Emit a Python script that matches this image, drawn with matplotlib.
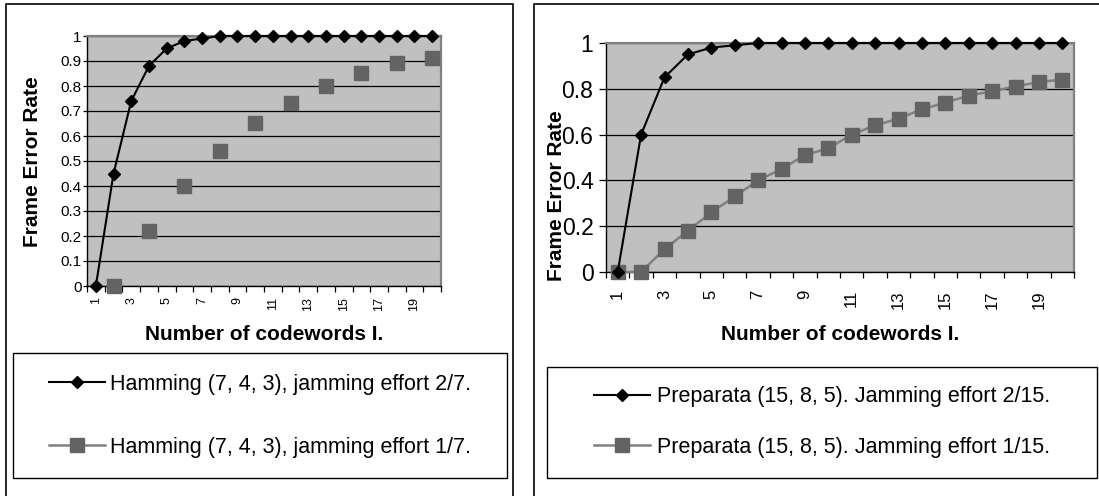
import numpy as np
import matplotlib
matplotlib.use('Agg')
import matplotlib.pyplot as plt
from matplotlib.patches import Rectangle
from matplotlib.lines import Line2D

plt.rcParams['font.family'] = ['Liberation Sans', 'DejaVu Sans']

# Datos: tasa de error de trama frente al número de palabras de código
codewords = np.arange(1, 21)
odd_labels = [str(k) for k in range(1, 21, 2)]

hamming_2_7 = [0, 0.45, 0.74, 0.88, 0.95, 0.98, 0.99, 1, 1, 1,
               1, 1, 1, 1, 1, 1, 1, 1, 1, 1]
hamming_1_7 = [np.nan, 0, np.nan, 0.22, np.nan, 0.40, np.nan, 0.54, np.nan, 0.65,
               np.nan, 0.73, np.nan, 0.80, np.nan, 0.85, np.nan, 0.89, np.nan, 0.91]

preparata_2_15 = [0, 0.60, 0.85, 0.95, 0.98, 0.99, 1, 1, 1, 1,
                  1, 1, 1, 1, 1, 1, 1, 1, 1, 1]
preparata_1_15 = [0, 0, 0.10, 0.18, 0.26, 0.33, 0.40, 0.45, 0.51, 0.54,
                  0.60, 0.64, 0.67, 0.71, 0.74, 0.77, 0.79, 0.81, 0.83, 0.84]

label_h27 = 'Hamming (7, 4, 3), jamming effort 2/7.'
label_h17 = 'Hamming (7, 4, 3), jamming effort 1/7.'
label_p215 = 'Preparata (15, 8, 5). Jamming effort 2/15.'
label_p115 = 'Preparata (15, 8, 5). Jamming effort 1/15.'

W, H = 1099, 496
fig = plt.figure(figsize=(W / 100, H / 100), dpi=100)
fig.patch.set_facecolor('white')


def fx(px):
    return px / W


def fy(py):
    return 1 - py / H


def box(x0, y0, x1, y1, lw=1.2):
    fig.add_artist(Rectangle((fx(x0), fy(y1)), (x1 - x0) / W, (y1 - y0) / H,
                             transform=fig.transFigure, fill=False,
                             ec='black', lw=lw))


# marcos de cada gráfico y de sus leyendas
box(6, 4, 513, 520)
box(534, 4, 1120, 520)
box(13, 353, 507, 478, lw=1.0)
box(547, 367, 1097, 478, lw=1.0)

BLACK = '#000000'
GRAY_LINE = '#808080'
GRAY_MARK = '#636363'


def estilo(ax, yticks, ylabels, ysize, xsize, ylen, ypad, xpad):
    ax.set_facecolor('#C0C0C0')
    ax.set_xlim(0.5, 20.5)
    ax.set_ylim(0, 1)
    ax.set_yticks(yticks)
    ax.set_yticklabels(ylabels)
    ax.grid(axis='y', color='black', linewidth=0.9)
    ax.set_axisbelow(True)
    ax.set_xticks(np.arange(0.5, 21, 1))
    ax.set_xticklabels([])
    ax.set_xticks(np.arange(1, 21, 2), minor=True)
    ax.set_xticklabels(odd_labels, minor=True, rotation=90, fontsize=xsize)
    ax.tick_params(axis='x', which='major', length=4, width=0.9, color='black')
    ax.tick_params(axis='x', which='minor', length=0, pad=xpad)
    ax.tick_params(axis='y', length=ylen, width=0.9, pad=ypad, labelsize=ysize)
    for s in ('top', 'right'):
        ax.spines[s].set_color(GRAY_LINE)
        ax.spines[s].set_linewidth(1.6)
    for s in ('left', 'bottom'):
        ax.spines[s].set_color('black')
        ax.spines[s].set_linewidth(1.0)


# Hamming (7, 4, 3)
ax1 = fig.add_axes([fx(87), fy(286), (441 - 87) / W, 250 / H])
estilo(ax1, np.arange(0, 1.01, 0.1),
       ['0', '0.1', '0.2', '0.3', '0.4', '0.5', '0.6', '0.7', '0.8', '0.9', '1'],
       11, 9, 3, 1, 8)
ax1.plot(codewords, hamming_2_7, color=BLACK, lw=1.5, marker='D', ms=6.5,
         clip_on=False, zorder=5)
ax1.plot(codewords, hamming_1_7, color=GRAY_LINE, lw=1.8, marker='s', ms=10.5,
         mfc=GRAY_MARK, mec=GRAY_MARK, clip_on=False, zorder=4)

# Preparata (15, 8, 5)
ax2 = fig.add_axes([fx(606), fy(272), (1074 - 606) / W, 229 / H])
estilo(ax2, np.arange(0, 1.01, 0.2), ['0', '0.2', '0.4', '0.6', '0.8', '1'],
       16.5, 12, 5, 4, 13)
ax2.plot(codewords, preparata_2_15, color=BLACK, lw=1.5, marker='D', ms=6.5,
         clip_on=False, zorder=5)
ax2.plot(codewords, preparata_1_15, color=GRAY_LINE, lw=1.8, marker='s', ms=10.5,
         mfc=GRAY_MARK, mec=GRAY_MARK, clip_on=False, zorder=4)

# títulos de ejes
fig.text(fx(33), fy(162), 'Frame Error Rate', rotation=90, ha='center',
         va='center', fontsize=15, fontweight='bold')
fig.text(fx(557), fy(196), 'Frame Error Rate', rotation=90, ha='center',
         va='center', fontsize=15, fontweight='bold')
fig.text(fx(264), fy(335), 'Number of codewords I.', ha='center',
         va='center', fontsize=15, fontweight='bold')
fig.text(fx(840), fy(335), 'Number of codewords I.', ha='center',
         va='center', fontsize=15, fontweight='bold')


def entradas(lab_a, lab_b):
    a = Line2D([], [], color=BLACK, lw=1.5, marker='D', ms=6.5)
    b = Line2D([], [], color=GRAY_LINE, lw=1.8, marker='s', ms=10.5,
               mfc=GRAY_MARK, mec=GRAY_MARK)
    return [a, b], [lab_a, lab_b]


h, l = entradas(label_h27, label_h17)
fig.legend(h, l, loc='center', bbox_to_anchor=(fx(260), fy(416)),
           bbox_transform=fig.transFigure, frameon=False, fontsize=15.5,
           handlelength=2.6, handletextpad=0.25, labelspacing=1.95,
           borderpad=0, borderaxespad=0)

h, l = entradas(label_p215, label_p115)
fig.legend(h, l, loc='center', bbox_to_anchor=(fx(822), fy(422)),
           bbox_transform=fig.transFigure, frameon=False, fontsize=15.5,
           handlelength=2.6, handletextpad=0.3, labelspacing=1.35,
           borderpad=0, borderaxespad=0)

fig.savefig('out.png', dpi=100)
